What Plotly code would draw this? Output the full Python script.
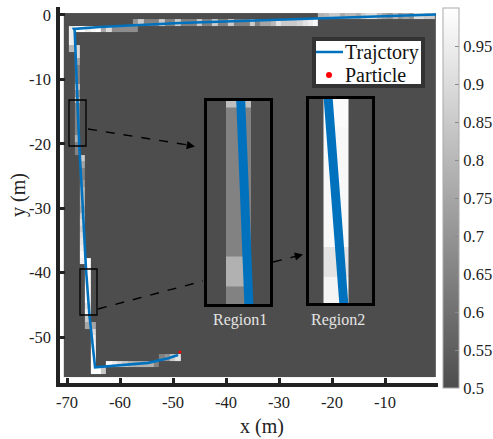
import numpy as np
import plotly.graph_objects as go

W, H = 493, 439

# ---- occupancy grid values, 1 m cells ----
row_a_vals = [.78,.8,.85,.85,.76,.8,.8,.76,.85,.9,.9,.8,.74,.7,.8,.7,.75,.7,.9,.9,.85,.85]   # row 0, col 47+
row_b_vals = [.7,.85,.65,.65,.65,.85,.65,.65,.85,.65,.65,.65,.85,.65,.65,.85,.65,.65,.85,.65,.65,.65,.85,.65,
              .75,.75,.8,.92,.85,.85,.85,.88,.92,.95,.98]                                    # row 1, col 12+
row_c_vals = [.95,1,1,.95,.98,1,.75,.9,.68,.68,.68,.68,.68]                                  # row 2, col 0+
col0_vals = [.95,.95,.8]                                                                     # col 0, row 3+
col1_vals = [.9,.9,.75,.65,.65,.65,.85,.7,.82,.65,.65,.65,.65,.65,.78,.65,.65]               # col 1, row 5+
col2_vals = [.85,.75,.65,.65,.72,.8,.8,.8,.75,.85,.9,.85,.9,.92,.95,.98,.95]                 # col 2, row 22+
col3_vals = [1,.99,.99,.98,.98,.98,.98,.92,.97,.85,.75]                                      # col 3, row 38+
col4_vals = [.75,.9,.95,.98,1,1,1]                                                           # col 4, row 48+
row55_vals = [1,1,.85]                                                                       # row 55, col 4+
row54_vals = [1,.95,.9,.85,.8,.78,.78,.78,.78,.65]                                           # row 54, col 7+
row53_vals = [.65,.7,.85,.92]                                                                # row 53, col 17+

x_edges = list(np.arange(-70.6, -0.5, 1.0)) + [-0.4]
y_edges = list(np.arange(0.3, -56.0, -1.0)) + [-56.2]

z = np.full((len(y_edges) - 1, len(x_edges) - 1), 0.5)
def hrow(r, c0, vals):
    for k, v in enumerate(vals):
        z[r, c0 + 1 + k] = v
def vcol(c, r0, vals):
    for k, v in enumerate(vals):
        z[r0 + k, c + 1] = v
hrow(0, 47, row_a_vals)
hrow(1, 12, row_b_vals)
hrow(2, 0, row_c_vals)
vcol(0, 3, col0_vals)
vcol(1, 5, col1_vals)
vcol(2, 22, col2_vals)
vcol(3, 38, col3_vals)
vcol(4, 48, col4_vals)
hrow(55, 4, row55_vals)
hrow(54, 7, row54_vals)
hrow(53, 17, row53_vals)

# ---- trajectory ----
traj_x = [-0.38, -24.15, -48.7, -63.8, -68.7, -68.55, -68.4, -68.04, -67.68, -67.1, -66.4, -65.76, -65.3, -64.7, -54.7, -50.9, -49.05]
traj_y = [0.08, -0.57, -1.24, -1.86, -2.17, -2.4, -5.4, -13.4, -20.37, -28.7, -39.67, -46.67, -50.5, -54.7, -54.0, -53.3, -52.8]
particle_x = [-48.7]
particle_y = [-52.3]

x_ticks = [-70, -60, -50, -40, -30, -20, -10]
x_labels = ["-70", "-60", "-50", "-40", "-30", "-20", "-10"]
y_ticks = [0, -10, -20, -30, -40, -50]
y_labels = ["0", "-10", "-20", "-30", "-40", "-50"]
cb_ticks = [.5, .55, .6, .65, .7, .75, .8, .85, .9, .95]
cb_labels = ["0.5", "0.55", "0.6", "0.65", "0.7", "0.75", "0.8", "0.85", "0.9", "0.95"]

BLUE = "#0072bd"
SERIF = "Liberation Serif"
AXC = "#222222"

def xd(a, b):
    return [a / W, b / W]
def yd(top, bot):
    return [1 - bot / H, 1 - top / H]
def px(x):
    return x / W
def py(y):
    return 1 - y / H

fig = go.Figure()

def heat(xa, ya):
    return go.Heatmap(x=x_edges, y=y_edges, z=z, coloraxis="coloraxis", xaxis=xa, yaxis=ya,
                      hoverinfo="skip", zsmooth=False)

fig.add_trace(heat("x", "y"))
fig.add_trace(go.Scatter(x=traj_x, y=traj_y, mode="lines", name="Trajctory", showlegend=False,
                         line=dict(color=BLUE, width=2.6), xaxis="x", yaxis="y"))
fig.add_trace(go.Scatter(x=particle_x, y=particle_y, mode="markers", name="Particle", showlegend=False,
                         marker=dict(color="#ff0000", size=3), xaxis="x", yaxis="y"))
for xa, ya in (("x2", "y2"), ("x3", "y3")):
    fig.add_trace(heat(xa, ya))
    fig.add_trace(go.Scatter(x=traj_x, y=traj_y, mode="lines", showlegend=False,
                             line=dict(color=BLUE, width=9), xaxis=xa, yaxis=ya))

inset = dict(showticklabels=False, ticks="", showgrid=False, zeroline=False, showline=True,
             mirror=True, linecolor="black", linewidth=3)

fig.update_layout(
    width=W, height=H, margin=dict(l=0, r=0, t=0, b=0, autoexpand=False), autosize=False,
    paper_bgcolor="white", plot_bgcolor="white",
    font=dict(family=SERIF, color="#222222", size=16),
    coloraxis=dict(
        cmin=0.5, cmax=1.0,
        colorscale=[[0, "#4d4d4d"], [1, "#ffffff"]],
        colorbar=dict(
            x=443 / W, xanchor="left", xpad=0, ypad=0,
            y=py(8), yanchor="top", len=380 / H, lenmode="fraction",
            thickness=16, thicknessmode="pixels",
            tickmode="array", tickvals=cb_ticks, ticktext=cb_labels,
            ticks="inside", ticklen=4, tickcolor="#888888", tickwidth=1,
            outlinecolor="#aaaaaa", outlinewidth=1,
            tickfont=dict(family=SERIF, size=16.5, color="#222222"),
        ),
    ),
    xaxis=dict(domain=xd(60, 438), range=[-71.32, 0.0], tickmode="array", tickvals=x_ticks, ticktext=x_labels,
               ticks="inside", ticklen=5, tickwidth=3, tickcolor=AXC, showline=True, linewidth=3.5, linecolor=AXC,
               showgrid=False, zeroline=False, tickfont=dict(size=16.5), anchor="y", ticklabelstandoff=1),
    yaxis=dict(domain=yd(7, 383), range=[-57.13, 1.24], tickmode="array", tickvals=y_ticks, ticktext=y_labels,
               ticks="inside", ticklen=5, tickwidth=3, tickcolor=AXC, showline=True, linewidth=3.5, linecolor=AXC,
               showgrid=False, zeroline=False, tickfont=dict(size=16.5), anchor="x", ticklabelstandoff=2),
    xaxis2=dict(domain=xd(207, 270), range=[-69.36, -66.84], anchor="y2", **inset),
    yaxis2=dict(domain=yd(101, 304), range=[-20.27, -13.5], anchor="x2", **inset),
    xaxis3=dict(domain=xd(309, 372), range=[-67.16, -64.64], anchor="y3", **inset),
    yaxis3=dict(domain=yd(99, 303), range=[-46.57, -39.77], anchor="x3", **inset),
    showlegend=False,
)

def line(x0, y0, x1, y1, dash="dash", width=1.4, color="black"):
    fig.add_shape(type="line", xref="paper", yref="paper", x0=px(x0), y0=py(y0), x1=px(x1), y1=py(y1),
                  line=dict(color=color, width=width, dash=dash))
def box(x0, y0, x1, y1, w=1.3, color="black", fill=None):
    fig.add_shape(type="rect", xref="paper", yref="paper", x0=px(x0), y0=py(y0), x1=px(x1), y1=py(y1),
                  line=dict(color=color, width=w), fillcolor=fill)

box(69, 100, 86, 146)
box(80, 269, 97, 315)
line(88, 129, 188, 145)
line(98, 309, 203, 281)
line(273, 262, 297, 256)

def head(x, y, ax, ay):
    fig.add_annotation(xref="paper", yref="paper", x=px(x), y=py(y), ax=ax, ay=ay, axref="pixel", ayref="pixel",
                       text="", showarrow=True, arrowhead=2, arrowsize=1.1, arrowwidth=1.5, arrowcolor="black")
head(195, 146.5, -10, -1.6)
head(303, 254.5, -10, 2.6)

def label(text, x, y, size, color="#222222", angle=0, anchor="center"):
    fig.add_annotation(xref="paper", yref="paper", x=px(x), y=py(y), text=text, showarrow=False,
                       font=dict(family=SERIF, size=size, color=color), textangle=angle,
                       xanchor=anchor, yanchor="middle", borderpad=0, borderwidth=0)
label("Region1", 240, 320, 16, "#e4e4e4")
label("Region2", 338, 320, 16, "#e4e4e4")
label("x (m)", 262, 426, 20)
label("y (m)", 18, 195, 20, angle=-90)

# legend panel
box(314, 39, 423, 86, w=4, color="#333333", fill="white")
line(316, 52, 343, 52, dash="solid", width=2.5, color=BLUE)
fig.add_shape(type="circle", xref="paper", yref="paper", x0=px(326), y0=py(72), x1=px(332), y1=py(78),
              line=dict(color="#ff0000", width=0), fillcolor="#ff0000")
label("Trajctory", 345, 52, 20, "#111111", anchor="left")
label("Particle", 345, 75, 20, "#111111", anchor="left")

fig.write_html("out.html", config={"displayModeBar": False},
               post_script="document.body.style.margin='0';document.body.style.overflow='hidden';")
